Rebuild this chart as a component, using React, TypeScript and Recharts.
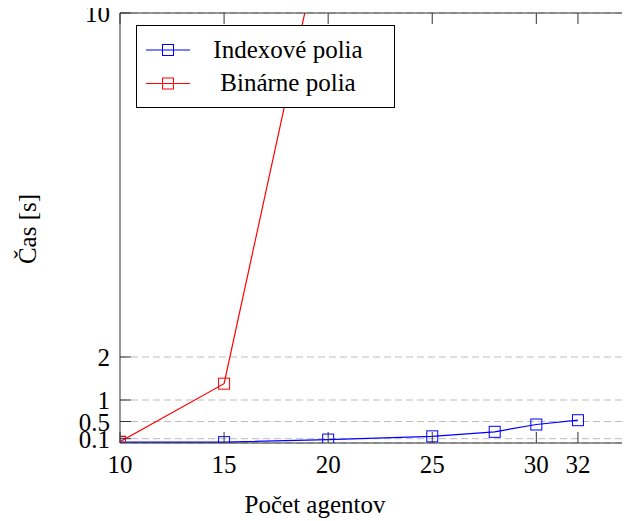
import React from 'react';
import { LineChart, Line, XAxis, YAxis, CartesianGrid, Legend, Label } from 'recharts';

const xTicks = [10, 15, 20, 25, 30, 32];
const yTicks = [0.1, 0.5, 1, 2, 10];
const seriesNames = ['Indexové polia', 'Binárne polia'];
const seriesColors = ['#0000ff', '#ff0000'];
const indexAgents = [10, 15, 20, 25, 28, 30, 32];
const indexTimes = [0.02, 0.02, 0.08, 0.155, 0.26, 0.43, 0.53];
const binaryAgents = [10, 15, 20];
const binaryTimes = [0.03, 1.38, 12.5];
const xTitle = 'Počet agentov';
const yTitle = 'Čas [s]';

const indexData = indexAgents.map((a, i) => ({ agents: a, time: indexTimes[i] }));
const binaryData = binaryAgents.map((a, i) => ({ agents: a, time: binaryTimes[i] }));

const FONT = "Tinos, 'Liberation Serif', 'Times New Roman', serif";
const FS = 25;
const AXIS = '#333';

const T = (p: any) => (
  <text fontFamily={FONT} fontSize={FS} style={{ fontFamily: FONT, fontSize: FS }} fill="#000" {...p} />
);

const makeSquare = (color: string) => (props: any) => {
  const { cx, cy, key } = props;
  if (cx == null || cy == null) return <g key={key} />;
  return <rect key={key} x={cx - 5.5} y={cy - 5.5} width={11} height={11} fill="none" stroke={color} strokeWidth={1} />;
};

const BottomTick = (props: any) => {
  const { x, y, payload } = props;
  return (
    <g>
      <line x1={x} x2={x} y1={y} y2={y - 11} stroke={AXIS} strokeWidth={1} />
      <T x={x} y={y + 30} textAnchor="middle">{payload.value}</T>
    </g>
  );
};

const TopTick = (props: any) => {
  const { x, y } = props;
  return <line x1={x} x2={x} y1={y} y2={y + 11} stroke={AXIS} strokeWidth={1} />;
};

const LeftTick = (props: any) => {
  const { x, y, payload } = props;
  return (
    <g>
      <line x1={x} x2={x + 11} y1={y} y2={y} stroke={AXIS} strokeWidth={1} />
      <T x={x - 10} y={y + 9} textAnchor="end">{payload.value}</T>
    </g>
  );
};

const renderLegend = () => (
  <svg width={260} height={84} style={{ display: 'block' }}>
    <rect x={0.5} y={0.5} width={258} height={82} fill="#fff" stroke="#000" strokeWidth={1} />
    {seriesNames.map((name, i) => {
      const cy = 25 + i * 33.5;
      const c = seriesColors[i];
      return (
        <g key={name}>
          <line x1={10} x2={54} y1={cy} y2={cy} stroke={c} strokeWidth={1.2} />
          <rect x={26.5} y={cy - 5.5} width={11} height={11} fill="none" stroke={c} strokeWidth={1} />
          <T x={152} y={cy + 7.5} textAnchor="middle">{name}</T>
        </g>
      );
    })}
  </svg>
);

export default function App() {
  return (
    <div style={{ margin: '-8px 0 0 -8px', width: 630, height: 521, background: '#fff', fontFamily: FONT }}>
      <LineChart
        width={630}
        height={521}
        margin={{ top: 12, right: 0, bottom: 0, left: 0 }}
        style={{ fontFamily: FONT }}
      >
        <CartesianGrid vertical={false} stroke="#bdbdbd" strokeDasharray="7 4" />
        <XAxis
          dataKey="agents"
          type="number"
          domain={[10, 34.5]}
          ticks={xTicks}
          allowDataOverflow
          height={78}
          tickSize={0}
          tickMargin={0}
          tickLine={false}
          axisLine={{ stroke: AXIS, strokeWidth: 1 }}
          tick={<BottomTick />}
          interval={0}
        >
          <Label content={() => <T x={315} y={513} textAnchor="middle">{xTitle}</T>} />
        </XAxis>
        <XAxis
          xAxisId="top"
          orientation="top"
          dataKey="agents"
          type="number"
          domain={[10, 34.5]}
          ticks={xTicks}
          allowDataOverflow
          height={1}
          tickSize={0}
          tickMargin={0}
          tickLine={false}
          axisLine={{ stroke: AXIS, strokeWidth: 1 }}
          tick={<TopTick />}
          interval={0}
        />
        <YAxis
          type="number"
          domain={[0, 10]}
          ticks={yTicks}
          allowDataOverflow
          width={120}
          tickSize={0}
          tickMargin={0}
          tickLine={false}
          axisLine={{ stroke: AXIS, strokeWidth: 1 }}
          tick={<LeftTick />}
          interval={0}
        >
          <Label
            content={() => (
              <T x={36} y={229} transform="rotate(-90, 36, 229)" textAnchor="middle">{yTitle}</T>
            )}
          />
        </YAxis>
        <Legend
          layout="vertical"
          verticalAlign="middle"
          align="center"
          content={renderLegend}
          wrapperStyle={{ left: 136, top: 25, width: 260, height: 84 }}
        />
        <Line
          data={indexData}
          dataKey="time"
          name={seriesNames[0]}
          stroke={seriesColors[0]}
          strokeWidth={1.2}
          dot={makeSquare(seriesColors[0])}
          activeDot={false}
          isAnimationActive={false}
        />
        <Line
          data={binaryData}
          dataKey="time"
          name={seriesNames[1]}
          stroke={seriesColors[1]}
          strokeWidth={1.2}
          dot={makeSquare(seriesColors[1])}
          activeDot={false}
          isAnimationActive={false}
        />
      </LineChart>
    </div>
  );
}
